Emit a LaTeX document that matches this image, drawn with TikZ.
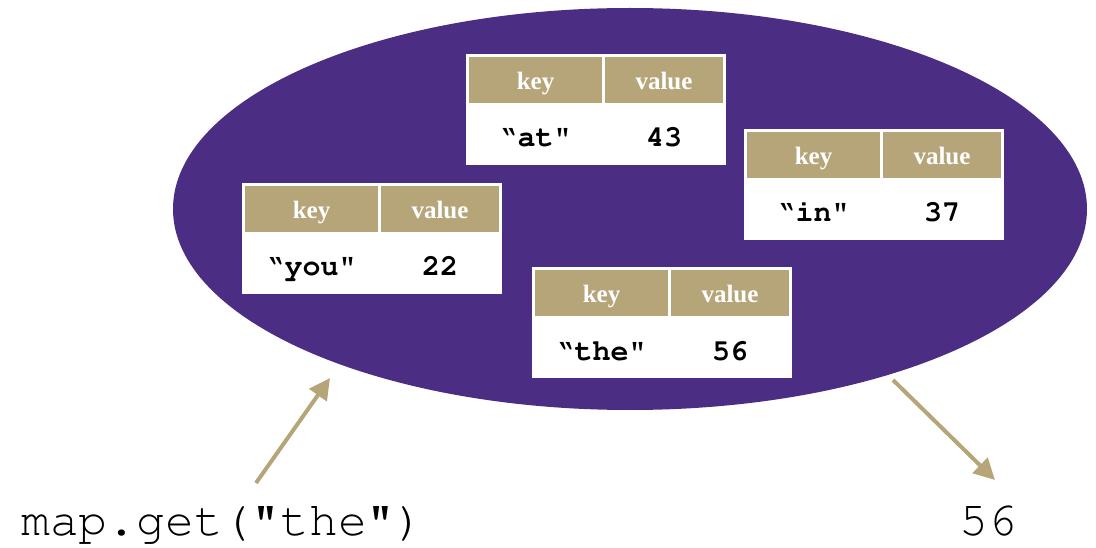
\documentclass[tikz,border=0pt]{standalone}
\usepackage{fontspec}
\setmainfont{Liberation Serif}
\setmonofont{Liberation Mono}
\usetikzlibrary{arrows.meta,shapes.geometric}
\definecolor{uwpurple}{HTML}{4B2E83}
\definecolor{uwgold}{HTML}{B7A57A}
\newcommand\courierfam{\fontencoding{T1}\fontfamily{pcr}\selectfont}
\newcommand\myopenq{\char"10 }
\tikzset{
  tabbox/.style={fill=white, draw=none, inner sep=0pt, minimum width=260pt, minimum height=111pt, anchor=north west},
  hdrcell/.style={fill=uwgold, draw=none, inner sep=0pt, minimum height=46pt, anchor=north west, text=white,
    font=\fontsize{25}{30}\selectfont\bfseries},
  hdrtext/.style={text=white, inner sep=0pt, anchor=base, font=\fontsize{25}{30}\selectfont\bfseries},
  bodytext/.style={inner sep=0pt, anchor=base, font=\courierfam\fontsize{30}{34}\bfseries\selectfont},
  codetext/.style={inner sep=0pt, anchor=base, font=\courierfam\fontsize{48}{54}\selectfont},
  goldarrow/.style={draw=uwgold, line width=4pt, -{Triangle[length=21pt,width=21pt]}},
}
\newcommand\kvtab[5]{%
  \node[tabbox] (#1) at (#2,#3) {};
  \node[hdrcell, minimum width=133pt] (#1kh) at ([shift={(3,3)}]#1.north west) {};
  \node[hdrcell, minimum width=118pt] (#1vh) at ([shift={(139,3)}]#1.north west) {};
  \node[hdrtext] (#1kt) at ([shift={(69.5,36)}]#1.north west) {key};
  \node[hdrtext] (#1vt) at ([shift={(198,36)}]#1.north west) {value};
  \node[bodytext] (#1k) at ([shift={(69.5,93)}]#1.north west) {#4};
  \node[bodytext] (#1v) at ([shift={(198,93)}]#1.north west) {#5};
}
\begin{document}
\begin{tikzpicture}[x=1pt,y=-1pt]
  \useasboundingbox (0,0) rectangle (1096,548);
  \node[ellipse, fill=uwpurple, draw=none, inner sep=0pt, minimum width=914pt, minimum height=402pt] (map) at (630,209) {};
  \kvtab{at}{466}{54}{\myopenq at"}{43}
  \kvtab{in}{744}{129}{\myopenq in"}{37}
  \kvtab{you}{242}{183}{\myopenq you"}{22}
  \kvtab{the}{532}{267}{\myopenq the"}{56}
  \node[codetext] (call) at (223,535) {map.get("the")};
  \node[codetext] (result) at (988,535) {56};
  \coordinate (callstart) at (256,483);
  \coordinate (calltip) at (330,378);
  \coordinate (resstart) at (893,380);
  \coordinate (restip) at (995,480);
  \draw[goldarrow] (callstart) -- (calltip);
  \draw[goldarrow] (resstart) -- (restip);
\end{tikzpicture}
\end{document}
